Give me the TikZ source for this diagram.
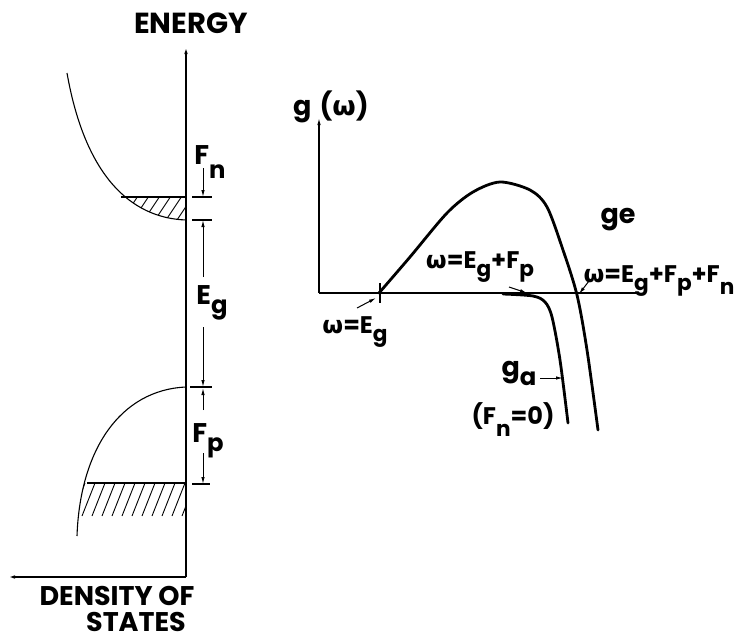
\documentclass[tikz,border=0pt]{standalone}
\usepackage{fontspec}
\setmainfont{Poppins}
\newfontfamily\gk{DejaVu Sans}
\usetikzlibrary{arrows.meta}
\newcommand\w{{\gk\bfseries ω}}
\newcommand\sbs[1]{\raisebox{-0.6ex}{\scalebox{0.9}{#1}}}
\newcommand\sbn[1]{\raisebox{-0.9ex}{\scalebox{0.9}{#1}}}
\begin{document}
\begin{tikzpicture}[x=1pt,y=-1pt,
  thinln/.style={line width=1.1pt},
  axisln/.style={line width=1.4pt},
  curveln/.style={line width=2.8pt, line cap=round},
  hatchln/.style={line width=0.9pt},
  tip/.style={-{Latex[length=7pt,width=3.5pt]}},
  dim/.style={line width=1pt, -{Latex[length=7pt,width=3.5pt]}},
  big/.style={font=\fontsize{29}{31}\selectfont\bfseries, inner sep=0pt, text height=20pt, text depth=0pt},
  bigs/.style={font=\fontsize{27}{29}\selectfont\bfseries, inner sep=0pt, text height=19pt, text depth=0pt},
  lbl/.style={font=\fontsize{27}{29}\selectfont\bfseries, inner sep=0pt},
  slbl/.style={font=\fontsize{24}{26}\selectfont\bfseries, inner sep=0pt}]
\useasboundingbox (0,0) rectangle (741,640);

% ---------- left panel ----------
\coordinate (O1) at (186,577);
\coordinate (Etop) at (186,47);
\coordinate (Dleft) at (8,577);
\draw[axisln,tip] (O1) -- (Etop);
\draw[axisln,tip] (O1) -- (Dleft);

\node[big,anchor=base] (energy) at (191,33) {ENERGY};
\node[bigs,anchor=base] (dens) at (117,605) {DENSITY OF};
\node[bigs,anchor=base] (states) at (136,631) {STATES};

% conduction band
\draw[thinln] (67,73) .. controls (85,175) and (130,218) .. (186,220);
\begin{scope}
  \clip (0,197) rectangle (186,224);
  \clip (67,73) .. controls (85,175) and (130,218) .. (186,220) -- (186,60) -- cycle;
  \foreach \x in {96,107,...,200} \draw[hatchln] (\x,226) -- (\x+20,196);
\end{scope}
\draw[thinln] (121,197) -- (186,197);

% valence band
\draw[thinln] (186,387) .. controls (120,390) and (80,450) .. (77,536);
\begin{scope}
  \clip (0,483) rectangle (186,516);
  \clip (186,387) .. controls (120,390) and (80,450) .. (77,536) -- (186,540) -- cycle;
  \foreach \x in {72,82,...,200} \draw[hatchln] (\x,516) -- (\x+13,483);
\end{scope}
\draw[thinln] (87,483) -- (186,483);

% dimension marks
\draw[thinln] (192,197) -- (212,197);
\draw[thinln] (192,220) -- (212,220);
\draw[thinln] (190,387) -- (212,387);
\draw[thinln] (192,484) -- (210,484);

\node[lbl] (Fn) at (210,162) {F\sbn{n}};
\node[lbl] (Eg) at (212,303) {E\sbs{g}};
\node[lbl] (Fp) at (208,441) {F\sbs{p}};

\coordinate (a1s) at (203,168);  \coordinate (a1e) at (203,197);
\coordinate (a2s) at (203,277);  \coordinate (a2e) at (203,220);
\coordinate (a3s) at (203,327);  \coordinate (a3e) at (203,387);
\coordinate (a4s) at (203,410);  \coordinate (a4e) at (203,388);
\coordinate (a5s) at (203,453);  \coordinate (a5e) at (203,484);
\draw[dim] (a1s) -- (a1e);
\draw[dim] (a2s) -- (a2e);
\draw[dim] (a3s) -- (a3e);
\draw[dim] (a4s) -- (a4e);
\draw[dim] (a5s) -- (a5e);

% ---------- right panel ----------
\coordinate (O2) at (319,293);
\coordinate (gtop) at (319,118);
\coordinate (xr) at (637,293);
\draw[thinln,tip] (O2) -- (gtop);
\draw[thinln] (O2) -- (xr);
\node[lbl] (gw) at (331,107) {g\hspace{8pt}(\w)};

% g_e
\draw[curveln] plot[smooth] coordinates {(379,293) (410,257) (447,213) (473,192) (500,182) (530,190) (547,207) (563,250) (577,295) (587,350) (598,430)};
% g_a
\draw[curveln] plot[smooth] coordinates {(503,294) (533,296) (545,302) (552,317) (560,360) (568,423)};

% tick at omega = Eg
\draw[thinln] (380,283) -- (380,303);

\node[slbl] (wEg) at (355,332) {\w=E\sbs{g}};
\node[slbl] (wEgFp) at (480,267) {\w=E\sbs{g}+F\sbs{p}};
\node[slbl] (wEgFpFn) at (659,281) {\w=E\sbs{g}+F\sbs{p}+F\sbn{n}};
\node[lbl] (ge) at (618,220) {ge};
\node[lbl] (ga) at (519,373) {g\sbs{a}};
\node[slbl] (fn0) at (513,420) {(F\sbn{n}=0)};

\coordinate (b1s) at (357,308); \coordinate (b1e) at (376,298);
\coordinate (b2s) at (509,287); \coordinate (b2e) at (527,293);
\coordinate (b3s) at (589,281); \coordinate (b3e) at (579,294);
\coordinate (b4s) at (540,378); \coordinate (b4e) at (563,378);
\draw[dim] (b1s) -- (b1e);
\draw[dim] (b2s) -- (b2e);
\draw[dim] (b3s) -- (b3e);
\draw[dim] (b4s) -- (b4e);
\end{tikzpicture}
\end{document}
